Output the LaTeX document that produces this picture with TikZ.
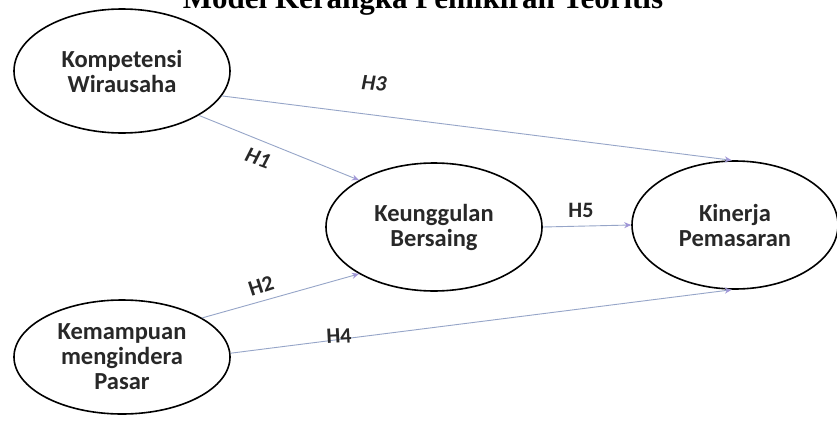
\documentclass[tikz,border=0pt]{standalone}
\usepackage{fontspec}
\setmainfont{Carlito}
\newfontfamily\titlefont{Liberation Serif}
\usetikzlibrary{shapes.geometric,arrows.meta}
\definecolor{linec}{RGB}{150,165,200}
\definecolor{headc}{RGB}{160,150,215}
\definecolor{txtc}{RGB}{40,40,40}
\begin{document}
\begin{tikzpicture}[x=1pt,y=-1pt,
  var/.style={ellipse, draw=black, line width=1.6pt, inner sep=0pt, align=center,
    text=txtc, font=\fontsize{24.5}{25}\selectfont\bfseries},
  link/.style={draw=linec, line width=0.9pt, -{Stealth[length=7pt,width=6pt,color=headc]}},
  hlab/.style={text=txtc, font=\fontsize{22}{22}\selectfont\bfseries, inner sep=0pt},
  hlabi/.style={hlab, font=\fontsize{22}{22}\selectfont\bfseries\itshape}]
\useasboundingbox (0,0) rectangle (837,423);
\clip (0,0) rectangle (837,423);
\fill[white] (0,0) rectangle (837,423);
\node[anchor=base, text=black, font=\titlefont\fontsize{31}{33}\selectfont\bfseries] (title) at (423,9) {Model Kerangka Pemikiran Teoritis};
\node[var, minimum width=216pt, minimum height=124pt] (kw) at (122,71) {Kompetensi\\Wirausaha};
\node[var, minimum width=216pt, minimum height=128pt] (kb) at (434,227) {Keunggulan\\Bersaing};
\node[var, minimum width=206pt, minimum height=128pt] (kp) at (735,225) {Kinerja\\Pemasaran};
\node[var, minimum width=216pt, minimum height=114pt] (km) at (122,357) {Kemampuan\\mengindera\\Pasar};
\draw[link] (kw.-30) -- (kb.148);
\draw[link] (kw.-14) -- (kp.93);
\draw[link] (km.26) -- (kb.-148);
\draw[link] (km.2) -- (kp.-93);
\draw[link] (kb.east) -- (kp.west);
\node[hlabi, rotate=-20] (h1) at (258,158) {H1};
\node[hlabi, rotate=-4] (h3) at (374,83) {H3};
\node[hlab, rotate=18] (h2) at (261,286) {H2};
\node[hlab, rotate=3] (h4) at (339,336) {H4};
\node[hlab] (h5) at (581,210) {H5};
\end{tikzpicture}
\end{document}
